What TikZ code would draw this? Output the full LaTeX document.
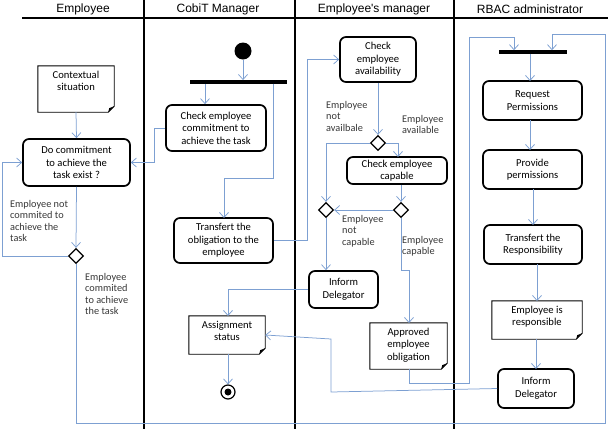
\documentclass[tikz,border=0pt]{standalone}
\usepackage{fontspec}
\setmainfont{Carlito}
\newfontfamily\hdrfont{Liberation Sans}
\usetikzlibrary{arrows.meta,shapes.geometric,calc}
\definecolor{conncol}{RGB}{125,160,210}
\definecolor{labcol}{RGB}{55,55,55}
\newcommand\boxfont{\fontsize{10.6}{12.6}\selectfont}
\newcommand\labfont{\fontsize{10.3}{11.4}\selectfont}
\newcommand\mknote[6]{%
  \node[inner sep=0pt, minimum width=#4pt, minimum height=#5pt] (#1) at (#2,#3) {};
  \draw[line width=0.9pt] (#1.north west) -- (#1.north east) -- ([yshift=6pt]#1.south east) -- ([xshift=-6pt]#1.south east) -- (#1.south west) -- cycle;
  \fill ([yshift=6pt]#1.south east) -- ([xshift=-6pt]#1.south east) -- ([xshift=-5pt,yshift=4pt]#1.south east) -- cycle;
  \node[anchor=north, align=center, font=\boxfont, inner sep=0pt] at ([yshift=-5pt]#1.north) {#6};
}
\begin{document}
\begin{tikzpicture}[x=1pt,y=-1pt,
 act/.style={draw, line width=1.7pt, rounded corners=6pt, align=center, font=\boxfont, inner sep=0pt},
 dec/.style={draw, diamond, line width=1.3pt, minimum width=15pt, minimum height=15pt, inner sep=0pt, fill=white},
 barnode/.style={fill=black, inner sep=0pt, minimum height=3.5pt},
 conn/.style={draw=conncol, line width=0.75pt, -{Straight Barb[length=5pt,width=9pt]}},
 lab/.style={anchor=north west, align=left, font=\labfont, text=labcol, inner sep=0pt},
 lane/.style={line width=1.2pt},
 hdr/.style={font=\hdrfont\fontsize{12}{14}\selectfont, inner sep=0pt}
]
\useasboundingbox (0,0) rectangle (608,429);
% lanes
\draw[lane] (22,18) -- (608,18);
\draw[lane] (144,0) -- (144,429);
\draw[lane] (295,0) -- (295,429);
\draw[lane] (454,0) -- (454,429);
\node[hdr] (h1) at (83,9) {Employee};
\node[hdr] (h2) at (218,9) {CobiT Manager};
\node[hdr] (h3) at (374,9) {Employee's manager};
\node[hdr] (h4) at (530,9) {RBAC administrator};

% nodes
\node[circle, fill=black, minimum size=17pt, inner sep=0pt] (start) at (243,51) {};
\node[barnode, minimum width=97pt] (bar1) at (238.5,82) {};
\node[barnode, minimum width=68pt] (bar2) at (533,52) {};
\mknote{ctx}{76}{89}{76}{46}{Contextual\\situation}
\node[act, minimum width=107pt, minimum height=47pt] (doc) at (76.5,162.5) {Do commitment\\to achieve the\\task exist ?};
\node[act, minimum width=100pt, minimum height=46pt] (chk) at (216,128) {Check employee\\commitment to\\achieve the task};
\node[act, minimum width=99pt, minimum height=45pt] (tob) at (223.5,240.5) {Transfert the\\obligation to the\\employee};
\node[act, minimum width=76pt, minimum height=45pt] (av) at (378,59.5) {Check\\employee\\availability};
\node[act, minimum width=100pt, minimum height=27pt] (cap) at (397,170.5) {Check employee\\capable};
\node[act, minimum width=69pt, minimum height=37pt] (infm) at (343.5,289.5) {Inform\\Delegator};
\mknote{asg}{227}{335}{76}{38}{Assignment\\status}
\mknote{apr}{408.5}{346}{77}{46}{Approved\\employee\\obligation}
\node[act, minimum width=99pt, minimum height=39pt] (req) at (532.5,100.5) {Request\\Permissions};
\node[act, minimum width=99pt, minimum height=39pt] (prov) at (532.5,169.5) {Provide\\permissions};
\node[act, minimum width=98pt, minimum height=39pt] (tresp) at (533,244.5) {Transfert the\\Responsibility};
\mknote{resp}{537}{320}{90}{38}{Employee is\\responsible}
\node[act, minimum width=76pt, minimum height=39pt] (infr) at (536,388.5) {Inform\\Delegator};
\node[dec] (d0) at (76,256) {};
\node[dec] (d1) at (378,143) {};
\node[dec] (d2) at (326,210) {};
\node[dec] (d3) at (401,210) {};
\node[circle, draw, line width=1.2pt, minimum size=14pt, inner sep=0pt] (end) at (228,392) {};
\node[circle, fill=black, minimum size=7pt, inner sep=0pt] (endin) at (228,392) {};

% labels
\node[lab] (l1) at (10,200) {Employee not\\commited to\\achieve the\\task};
\node[lab] (l2) at (85,273) {Employee\\commited\\to achieve\\the task};
\node[lab] (l3) at (326,101) {Employee\\not\\availbale};
\node[lab] (l4) at (402,115) {Employee\\available};
\node[lab] (l5) at (342,215) {Employee\\not\\capable};
\node[lab] (l6) at (402,236) {Employee\\capable};

% connectors
\draw[conn] (start) -- (start |- bar1.north);
\draw[conn] ([xshift=-11pt]chk.north |- bar1.south) -- ([xshift=-11pt]chk.north);
\draw[conn] (chk.west) -- (154,128) -- (154,162.5) -- (doc.east);
\draw[conn] (273,83.7) -- (273,178) -- (224,178) -- (224,218);
\draw[conn] (ctx.south) -- (doc.north);
\draw[conn] (doc.south) -- (d0.north);
\draw[conn] (d0.west) -- (2,256) -- (2,162.5) -- (doc.west);
\draw[conn] (d0.south) -- (76,423) -- (605,423) -- (605,34) -- (552,34) -- (552,50.2);
\draw[conn] (tob.east) -- (307,240.5) -- (307,59.5) -- (av.west);
\draw[conn] (av.south) -- (d1.north);
\draw[conn] (d1.east) -- (398,143) -- (398,157);
\draw[conn] (d1.west) -- (326,143) -- (d2.north);
\draw[conn] (d3.north |- cap.south) -- (d3.north);
\draw[conn] (d3.west) -- (d2.east);
\draw[conn] (d2.south) -- (d2.south |- infm.north);
\draw[conn] (infm.west) -- (228,289.5) -- (228,316);
\draw[conn] (asg.south -| end) -- (end.north);
\draw[conn] (d3.south) -- (401,270) -- (409,270) -- (409,323);
\draw[conn] (409,369) -- (409,383) -- (469,383) -- (469,37) -- (514,37) -- (514,50.2);
\draw[conn] (530,53.8) -- (530,81);
\draw[conn] (530,120) -- (530,150);
\draw[conn] (533,189) -- (533,225);
\draw[conn] (537,264) -- (537,301);
\draw[conn] (536,339) -- (536,369);
\draw[conn] (infr.west) -- (331,392) -- (331,339) -- (asg.east);
\end{tikzpicture}
\end{document}
